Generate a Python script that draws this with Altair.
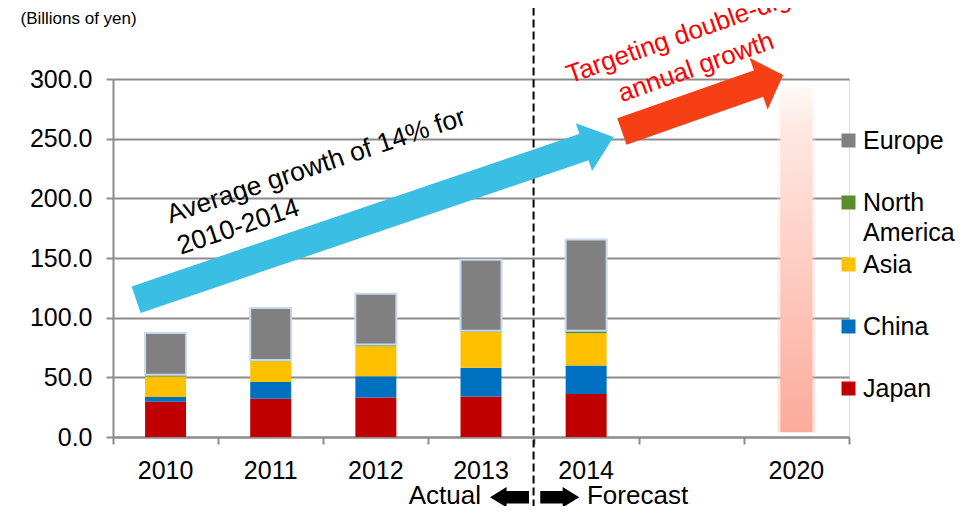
import math
import altair as alt
import pandas as pd

FONT = "Liberation Sans"
GRID = "#8c8c8c"

# ---------------- data ----------------
YEARS = ["2010", "2011", "2012", "2013", "2014"]
CATEGORIES = ["2010", "2011", "2012", "2013", "2014", " ", "2020"]
REGIONS = ["Europe", "North America", "Asia", "China", "Japan"]          # legend order
REGION_COLORS = ["#808080", "#5b8c2f", "#ffc000", "#0070c0", "#c00000"]
japan = [29.5, 32.0, 33.0, 34.0, 36.0]
china = [4.0, 14.0, 18.0, 24.0, 24.0]
asia = [17.3, 17.5, 25.0, 30.0, 27.0]
north_america = [1.3, 1.0, 1.5, 1.0, 2.0]
europe = [35.0, 43.5, 42.5, 59.5, 76.5]
Y_TICKS = [0, 50, 100, 150, 200, 250, 300]
TARGET_YEAR = ["2020"]
target_top = [293.0]
target_base = [4.0]

# annotation anchors (x in category widths from the left edge, y in billions of yen)
BLUE_ARROW_X = [0.22, 4.49]
BLUE_ARROW_Y = [115.0, 243.3]
RED_ARROW_X = [4.84, 6.15]
RED_ARROW_Y = [256.0, 296.4]
BOUNDARY_X = [4.0]

W, H = 736, 358
X_UNITS, Y_MAX = 7, 300

series = {"Japan": japan, "China": china, "Asia": asia,
          "North America": north_america, "Europe": europe}
rows = []
for r, vals in series.items():
    for y, v in zip(YEARS, vals):
        rows.append({"year": y, "region": r, "value": v,
                     "rank": len(REGIONS) - 1 - REGIONS.index(r)})
bar_df = pd.DataFrame(rows)
target_df = pd.DataFrame({"year": TARGET_YEAR, "top": target_top, "base": target_base})


def heading(xs, ys):
    dx = (xs[1] - xs[0]) * W / X_UNITS
    dy = (ys[1] - ys[0]) * H / Y_MAX
    return (360 - math.degrees(math.atan2(dy, dx))) % 360


# ---------------- scales / axes ----------------
xband = alt.Scale(domain=CATEGORIES, paddingInner=0, paddingOuter=0)
xaxis_band = alt.Axis(orient="bottom", title=None, ticks=False, tickSize=0,
                      labelFontSize=25, labelFont=FONT, labelColor="black",
                      labelPadding=21, labelAngle=0, domainColor=GRID,
                      domainWidth=2, grid=False)
yscale = alt.Scale(domain=[0, Y_MAX], nice=False, zero=True)
yaxis = alt.Axis(values=Y_TICKS, format=".1f", title=None, labelFontSize=25,
                 labelFont=FONT, labelColor="black", labelPadding=14,
                 tickSize=7, tickWidth=2, tickColor=GRID, domainColor=GRID,
                 domainWidth=2, gridColor=GRID, gridWidth=2, grid=True)
xquant = alt.Scale(domain=[0, X_UNITS], nice=False, zero=False)
xaxis_ticks = alt.Axis(orient="bottom", values=list(range(X_UNITS + 1)),
                       labels=False, domain=False, grid=False, title=None,
                       tickSize=7, tickWidth=2, tickColor=GRID)

legend = alt.Legend(title=None, orient="none", legendX=723, legendY=49,
                    direction="vertical", gridAlign="all", rowPadding=6,
                    symbolType="square", symbolSize=196, symbolStrokeWidth=0,
                    labelFont=FONT, labelFontSize=25, labelColor="black",
                    labelOffset=2, labelLimit=300, padding=0,
                    labelExpr="datum.label == 'North America' ? ['North', 'America'] : datum.label")

bars = alt.Chart(bar_df).mark_bar(size=41, stroke="#c6d9f1").encode(
    x=alt.X("year:N", scale=xband, axis=xaxis_band),
    y=alt.Y("value:Q", stack="zero", scale=yscale, axis=yaxis),
    color=alt.Color("region:N", scale=alt.Scale(domain=REGIONS, range=REGION_COLORS),
                    legend=legend),
    order=alt.Order("rank:Q", sort="ascending"),
    strokeWidth=alt.condition("datum.region === 'Europe'", alt.value(2), alt.value(0)),
)

gradient = alt.LinearGradient(
    gradient="linear",
    stops=[alt.GradientStop(color="#fff9f7", offset=0),
           alt.GradientStop(color="#fee8e2", offset=0.12),
           alt.GradientStop(color="#fbab9b", offset=1)],
    x1=0, x2=0, y1=0, y2=1)

pink_halo = alt.Chart(target_df).mark_bar(size=38, color=gradient, opacity=0.35).encode(
    x=alt.X("year:N", scale=xband, axis=xaxis_band),
    y=alt.Y("top:Q", scale=yscale, axis=yaxis),
    y2="base:Q",
)
pink = alt.Chart(target_df).mark_bar(size=32, color=gradient).encode(
    x=alt.X("year:N", scale=xband, axis=xaxis_band),
    y=alt.Y("top:Q", scale=yscale, axis=yaxis),
    y2="base:Q",
)


def xq():
    return alt.X("x:Q", scale=xquant, axis=xaxis_ticks)


def yq():
    return alt.Y("y:Q", scale=yscale, axis=yaxis)


rule = alt.Chart(pd.DataFrame({"x": BOUNDARY_X, "y": [370.0], "y2": [-70.0]})).mark_rule(
    color="black", strokeWidth=2, strokeDash=[8, 4]).encode(x=xq(), y=yq(), y2="y2:Q")

BLUE = "#3bbee3"
RED = "#f73f15"
blue_line = alt.Chart(pd.DataFrame({"x": BLUE_ARROW_X, "y": BLUE_ARROW_Y})).mark_line(
    color=BLUE, strokeWidth=28, strokeCap="butt").encode(x=xq(), y=yq())
blue_head = alt.Chart(pd.DataFrame({"x": BLUE_ARROW_X[1:], "y": BLUE_ARROW_Y[1:]})).mark_point(
    shape="M -0.04,-0.84 L 1,0 L -0.04,0.84 Z", size=3600, filled=True, opacity=1,
    color=BLUE, strokeWidth=0, angle=heading(BLUE_ARROW_X, BLUE_ARROW_Y)).encode(x=xq(), y=yq())
red_line = alt.Chart(pd.DataFrame({"x": RED_ARROW_X, "y": RED_ARROW_Y})).mark_line(
    color=RED, strokeWidth=28, strokeCap="butt").encode(x=xq(), y=yq())
red_head = alt.Chart(pd.DataFrame({"x": RED_ARROW_X[1:], "y": RED_ARROW_Y[1:]})).mark_point(
    shape="M -0.04,-0.98 L 0.89,0 L -0.04,0.98 Z", size=3136, filled=True, opacity=1,
    color=RED, strokeWidth=0, angle=heading(RED_ARROW_X, RED_ARROW_Y)).encode(x=xq(), y=yq())

blue_text = alt.Chart(pd.DataFrame({"x": [0.545], "y": [179.0]})).mark_text(
    text=["Average growth of 14% for", "2010-2014"], align="left", baseline="alphabetic",
    angle=341.5, fontSize=26.5, lineHeight=33, font=FONT, color="black").encode(x=xq(), y=yq())
red_text = alt.Chart(pd.DataFrame({"x": [5.46], "y": [331.0]})).mark_text(
    text=["Targeting double-digit", "annual growth"], align="center", baseline="alphabetic",
    angle=340.5, fontSize=26, lineHeight=35, font=FONT, color="#ff0000").encode(x=xq(), y=yq())

title_text = alt.Chart(pd.DataFrame({"x": [-0.88], "y": [346.0]})).mark_text(
    text="(Billions of yen)", align="left", baseline="alphabetic", fontSize=17,
    font=FONT, color="black").encode(x=xq(), y=yq())

actual_text = alt.Chart(pd.DataFrame({"x": [3.50], "y": [-56.5]})).mark_text(
    text="Actual", align="right", baseline="alphabetic", fontSize=26, font=FONT,
    color="black").encode(x=xq(), y=yq())
forecast_text = alt.Chart(pd.DataFrame({"x": [4.508], "y": [-56.5]})).mark_text(
    text="Forecast", align="left", baseline="alphabetic", fontSize=26, font=FONT,
    color="black").encode(x=xq(), y=yq())

BLOCK_ARROW = "M -1,-0.32 L 0.15,-0.32 L 0.15,-0.52 L 1,0 L 0.15,0.52 L 0.15,0.32 L -1,0.32 Z"
left_arrow = alt.Chart(pd.DataFrame({"x": [3.771], "y": [-50.5]})).mark_point(
    shape=BLOCK_ARROW, size=1521, filled=True, opacity=1, color="black", strokeWidth=0,
    angle=180).encode(x=xq(), y=yq())
right_arrow = alt.Chart(pd.DataFrame({"x": [4.249], "y": [-50.5]})).mark_point(
    shape=BLOCK_ARROW, size=1521, filled=True, opacity=1, color="black", strokeWidth=0,
    angle=0).encode(x=xq(), y=yq())

group_a = alt.layer(bars, pink_halo, pink)
group_b = alt.layer(rule, blue_line, blue_head, red_line, red_head, blue_text, red_text,
                    title_text, actual_text, forecast_text, left_arrow, right_arrow)

chart = alt.layer(group_a, group_b).resolve_scale(x="independent").properties(
    width=W, height=H,
    padding={"left": 105, "top": 71, "right": 121, "bottom": 69},
    autosize=alt.AutoSizeParams(type="none"),
).configure_view(stroke="transparent").configure(
    style={"guide-label": {"lineHeight": 30}})

chart.save("out.html", embed_options={"renderer": "svg", "actions": False})
